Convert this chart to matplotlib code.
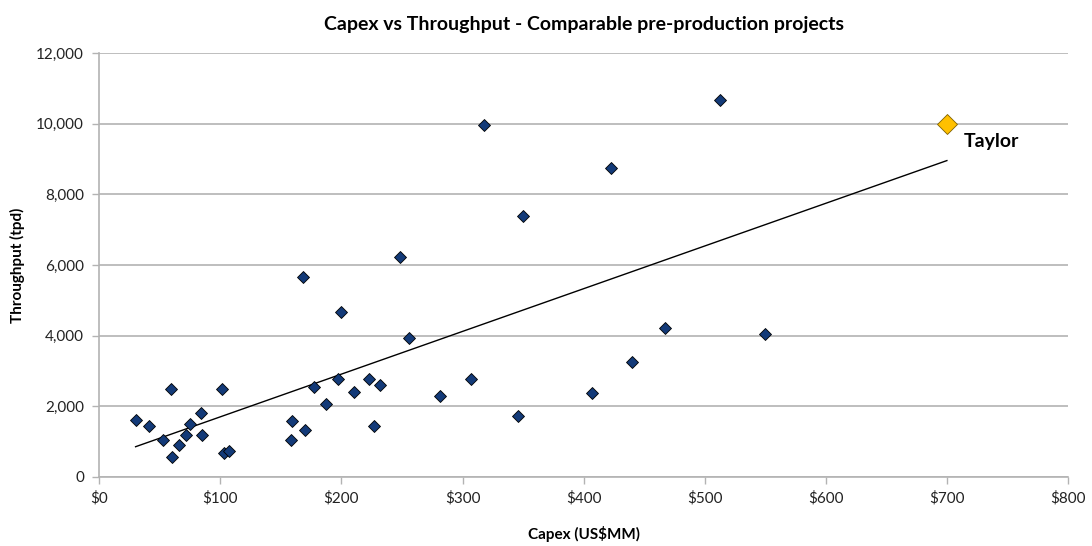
#
# plot.py
#
# Capex vs throughput scatter for comparable pre-production projects,
# with a linear trend line and the Taylor project highlighted.
#

import matplotlib
matplotlib.use('Agg')
import matplotlib.pyplot as plt
import matplotlib.ticker as mticker
import numpy as np

plt.rcParams['font.family'] = ['Lato', 'DejaVu Sans']

#
# Comparable projects: capex (US$MM) and throughput (tpd)
#
capex = [30, 41, 53, 60, 66, 72, 75, 84, 85, 59, 101, 103, 107,
         168, 170, 177, 187, 197, 200, 210, 159, 158, 227, 223, 232,
         248, 256, 281, 318, 350, 307, 346, 407, 423, 440, 467, 513, 550]
tpd = [1600, 1440, 1030, 560, 890, 1190, 1480, 1800, 1190, 2490, 2490,
       660, 740, 5670, 1320, 2550, 2060, 2770, 4670, 2410, 1580, 1040,
       1450, 2770, 2600, 6230, 3940, 2300, 9970, 7400, 2780, 1720, 2360,
       8760, 3260, 4220, 10680, 4040]

taylor_capex = 700
taylor_tpd = 10000
taylor_name = 'Taylor'

x = np.array(capex, dtype=float)
y = np.array(tpd, dtype=float)

#
# Linear trend line over the whole series (Taylor included)
#
xa = np.append(x, taylor_capex)
ya = np.append(y, taylor_tpd)
slope, icpt = np.polyfit(xa, ya, 1)
xt = np.array([xa.min(), xa.max()])
yt = slope*xt + icpt

fig = plt.figure(figsize=(10.92, 5.46), dpi=100)
ax = fig.add_axes([0.0909, 0.1269, 0.8871, 0.7755])

grid_col = '#b3b3b3'
ax.set_axisbelow(True)
ax.yaxis.grid(True, color=grid_col, lw=1.2)

ax.plot(xt, yt, color='black', lw=1, zorder=2)
ax.plot(x, y, 'D', ms=6.2, mfc='#133a78', mec='black', mew=0.6,
        ls='none', zorder=3)
ax.plot([taylor_capex], [taylor_tpd], 'D', ms=10, mfc='#ffc000',
        mec='#7f6000', mew=0.6, ls='none', zorder=4)
ax.annotate(taylor_name, (taylor_capex, taylor_tpd), xytext=(12, -13),
            textcoords='offset points', fontsize=14, fontweight='bold',
            va='center', ha='left')

ax.set_xlim(0, 800)
ax.set_ylim(0, 12000)
ax.set_xticks(np.arange(0, 801, 100))
ax.set_yticks(np.arange(0, 12001, 2000))
ax.xaxis.set_major_formatter(mticker.FuncFormatter(lambda v, p: '$%d' % v))
ax.yaxis.set_major_formatter(mticker.FuncFormatter(lambda v, p: '{:,.0f}'.format(v)))

for s in ['top', 'right']:
    ax.spines[s].set_visible(False)
for s in ['left', 'bottom']:
    ax.spines[s].set_color(grid_col)
    ax.spines[s].set_linewidth(1.2)
ax.tick_params(axis='both', color=grid_col, length=5, width=1,
               labelsize=11, labelcolor='#222222')
ax.tick_params(axis='x', pad=5)
ax.tick_params(axis='y', pad=6)

ax.set_title('Capex vs Throughput - Comparable pre-production projects',
             fontsize=14, fontweight='bold', pad=17)
ax.set_xlabel('Capex (US$MM)', fontsize=11, fontweight='bold', labelpad=15)
ax.set_ylabel('Throughput (tpd)', fontsize=11, fontweight='bold', labelpad=8)

fig.savefig('out.png', dpi=100)
